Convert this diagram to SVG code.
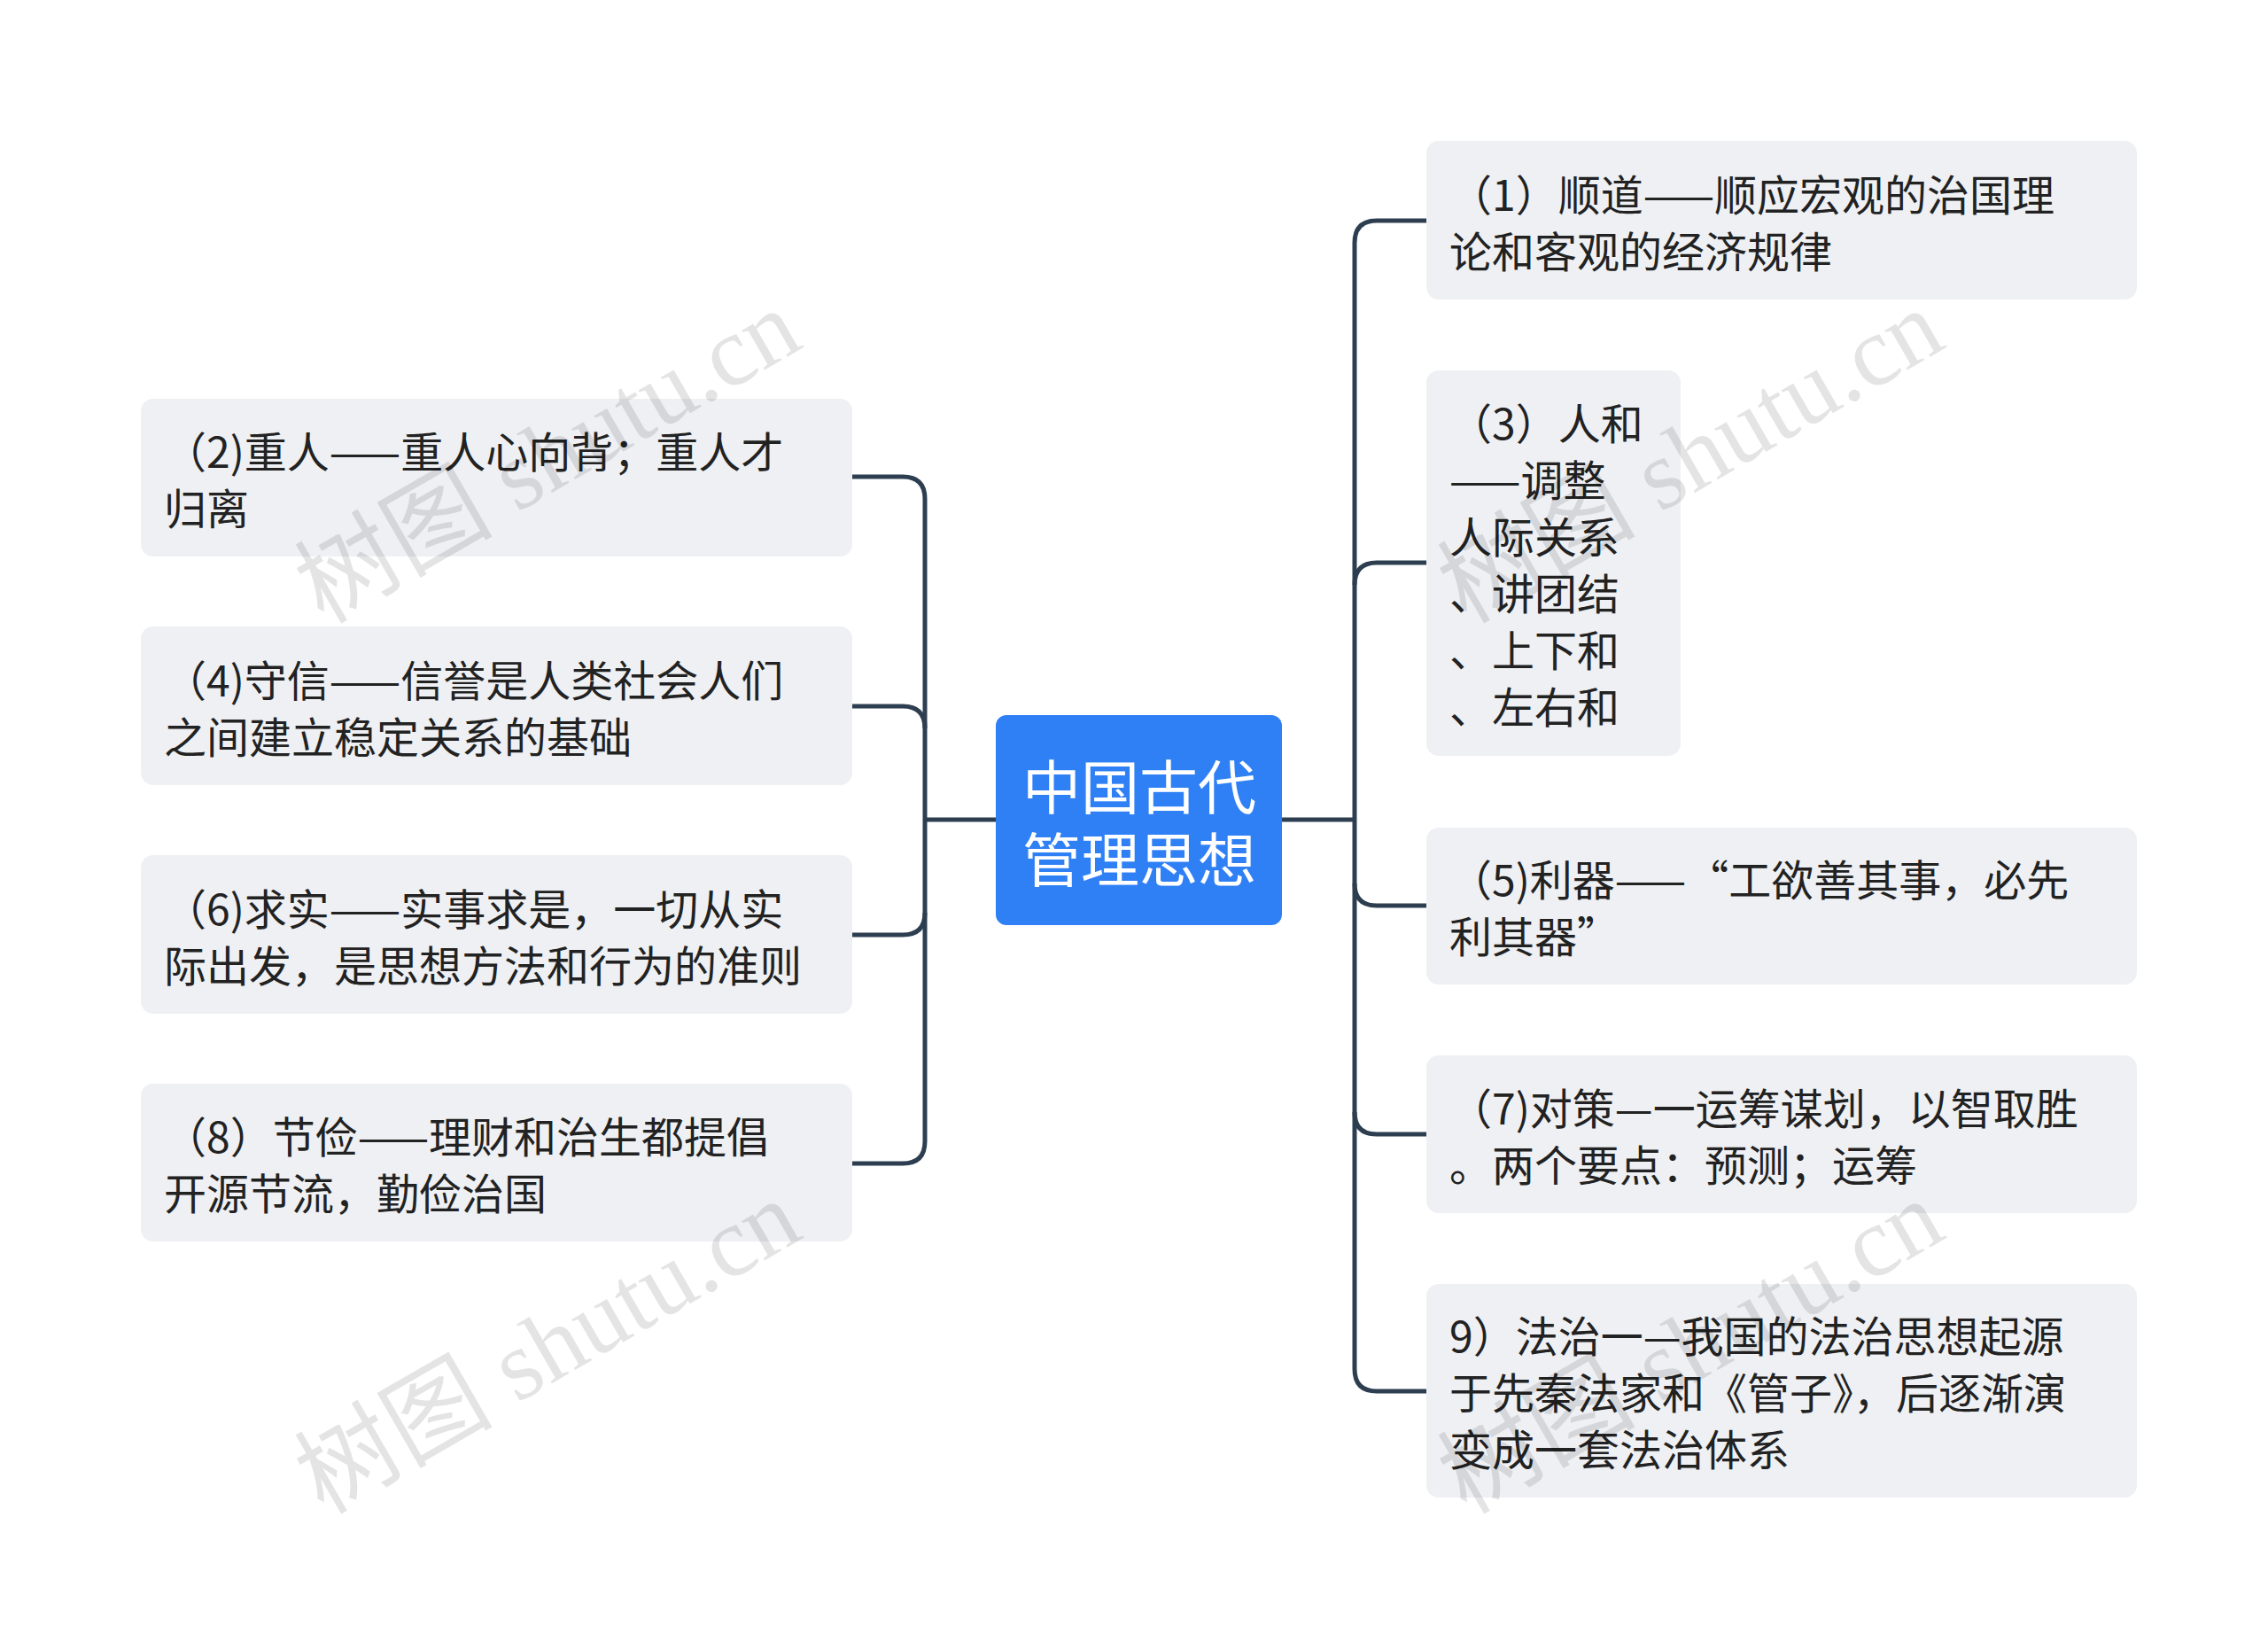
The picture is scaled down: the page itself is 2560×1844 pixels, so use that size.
<svg xmlns="http://www.w3.org/2000/svg" width="2560" height="1844" viewBox="0 0 2560 1844">
<style>
.box{fill:#eef0f3}
.t{font-family:"Noto Sans CJK SC","Noto Sans",sans-serif;font-size:48px;fill:#222;dominant-baseline:central}
.c{font-family:"Noto Sans CJK SC","Noto Sans",sans-serif;font-size:66px;fill:#fff;dominant-baseline:central;text-anchor:middle}
.wm{font-family:"Liberation Serif","Noto Sans CJK SC",serif;font-size:112px;fill:#000;opacity:0.1}
.ln{fill:none;stroke:#2d3e50;stroke-width:5}
</style>
<rect width="2560" height="1844" fill="#fff"/>
<g id="connectors">
<path class="ln" d="M1124 925H1044"/>
<path class="ln" d="M962 538H1019Q1044 538 1044 563V1288Q1044 1313 1019 1313H962"/>
<path class="ln" d="M962 797H1019Q1044 797 1044 822"/>
<path class="ln" d="M962 1055H1019Q1044 1055 1044 1030"/>
<path class="ln" d="M1447 925H1529"/>
<path class="ln" d="M1610 249H1554Q1529 249 1529 274V1545Q1529 1570 1554 1570H1610"/>
<path class="ln" d="M1610 635H1554Q1529 635 1529 660"/>
<path class="ln" d="M1610 1022H1554Q1529 1022 1529 997"/>
<path class="ln" d="M1610 1280H1554Q1529 1280 1529 1255"/>
</g>
<g id="center"><rect x="1124" y="807" width="323" height="237" rx="12" fill="#2f80f5"/>
<text class="c" x="1286" y="884">中国古代</text><text class="c" x="1286" y="966">管理思想</text></g>
<g id="l1"><rect class="box" x="159" y="450" width="803" height="178" rx="14"/>
<text class="t" x="185" y="507">（2)重人——重人心向背；重人才</text><text class="t" x="185" y="571">归离</text></g>
<g id="l2"><rect class="box" x="159" y="707" width="803" height="179" rx="14"/>
<text class="t" x="185" y="765">（4)守信——信誉是人类社会人们</text><text class="t" x="185" y="829">之间建立稳定关系的基础</text></g>
<g id="l3"><rect class="box" x="159" y="965" width="803" height="179" rx="14"/>
<text class="t" x="185" y="1023">（6)求实——实事求是，一切从实</text><text class="t" x="185" y="1087">际出发，是思想方法和行为的准则</text></g>
<g id="l4"><rect class="box" x="159" y="1223" width="803" height="178" rx="14"/>
<text class="t" x="185" y="1280">（8）节俭——理财和治生都提倡</text><text class="t" x="185" y="1344">开源节流，勤俭治国</text></g>
<g id="r1"><rect class="box" x="1610" y="159" width="802" height="179" rx="14"/>
<text class="t" x="1636" y="217">（1）顺道——顺应宏观的治国理</text><text class="t" x="1636" y="281">论和客观的经济规律</text></g>
<g id="r2"><rect class="box" x="1610" y="418" width="287" height="435" rx="14"/>
<text class="t" x="1636" y="475">（3）人和</text><text class="t" x="1636" y="539">——调整</text><text class="t" x="1636" y="603">人际关系</text><text class="t" x="1636" y="667">、讲团结</text><text class="t" x="1636" y="731">、上下和</text><text class="t" x="1636" y="795">、左右和</text></g>
<g id="r3"><rect class="box" x="1610" y="934" width="802" height="177" rx="14"/>
<text class="t" x="1636" y="990">（5)利器——“工欲善其事，必先</text><text class="t" x="1636" y="1054">利其器”</text></g>
<g id="r4"><rect class="box" x="1610" y="1191" width="802" height="178" rx="14"/>
<text class="t" x="1636" y="1248">（7)对策—一运筹谋划，以智取胜</text><text class="t" x="1636" y="1312">。两个要点：预测；运筹</text></g>
<g id="r5"><rect class="box" x="1610" y="1449" width="802" height="241" rx="14"/>
<text class="t" x="1636" y="1505">9）法治一—我国的法治思想起源</text><text class="t" x="1636" y="1569">于先秦法家和《管子》，后逐渐演</text><text class="t" x="1636" y="1633">变成一套法治体系</text></g>
<g id="watermarks">
<text class="wm" transform="translate(365 705) rotate(-30)">树图 shutu.cn</text>
<text class="wm" transform="translate(365 1710) rotate(-30)">树图 shutu.cn</text>
<text class="wm" transform="translate(1655 705) rotate(-30)">树图 shutu.cn</text>
<text class="wm" transform="translate(1655 1710) rotate(-30)">树图 shutu.cn</text>
</g>
</svg>
